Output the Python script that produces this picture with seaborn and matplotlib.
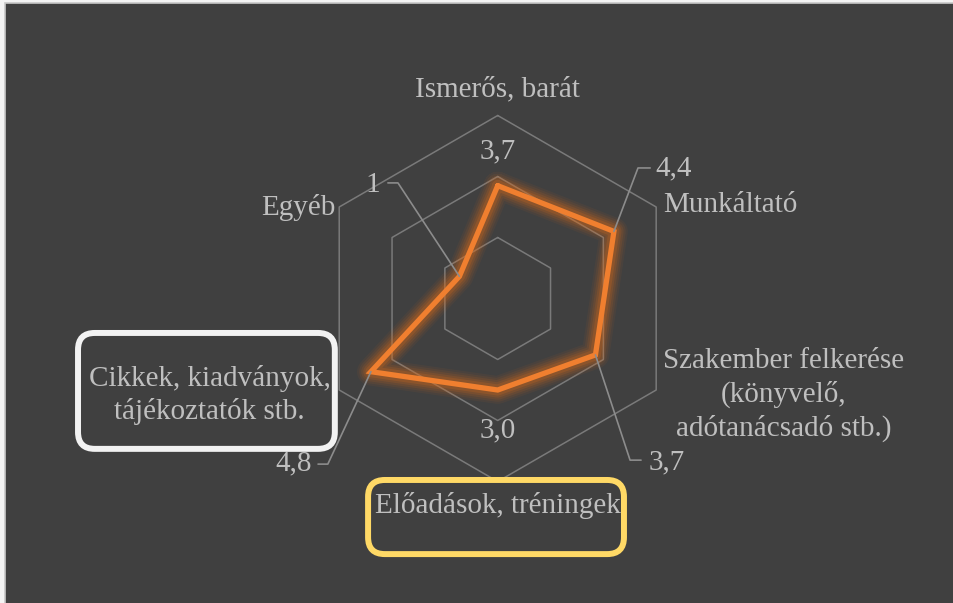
import numpy as np
import pandas as pd
import matplotlib.pyplot as plt
from matplotlib.patches import FancyBboxPatch, Rectangle
import seaborn as sns

# --- Data ---
categories = ['Ismerős, barát',
              'Munkáltató',
              'Szakember felkerése\n(könyvelő,\nadótanácsadó stb.)',
              'Előadások, tréningek',
              'Cikkek, kiadványok,\ntájékoztatók stb.',
              'Egyéb']
values = [3.7, 4.4, 3.7, 3.0, 4.8, 1.45]
value_labels = ['3,7', '4,4', '3,7', '3,0', '4,8', '1']
rings = [2, 4, 6]

# --- Style ---
bg = '#404040'
txt_col = '#bfbfbf'
grid_col = '#7a7a7a'
orange = '#f07f2f'
fs = 21

sns.set_theme(style='white')
plt.rcParams['font.family'] = ['Liberation Serif', 'DejaVu Serif']

# px geometry of reference: centre and px per unit
cx, cy, ppu = 497.7, 298.5, 30.5
W, H = 954, 603

fig = plt.figure(figsize=(W / 100, H / 100), dpi=100, facecolor='#f4f4f4')
fig.patches.append(Rectangle((5 / W, -0.05), 1.05, 1.05 - 3 / H, transform=fig.transFigure,
                             facecolor=bg, edgecolor='#c8c8c8', lw=1.2, zorder=-1))
ax = fig.add_axes([0, 0, 1, 1])
ax.set_facecolor('none')
ax.set_xlim(-cx / ppu, (W - cx) / ppu)
ax.set_ylim(-(H - cy) / ppu, cy / ppu)
ax.set_aspect('equal')
ax.axis('off')

n = len(categories)
theta = np.arange(n) * 2 * np.pi / n   # clockwise from top


def to_xy(r, th):
    return np.asarray(r) * np.sin(th), np.asarray(r) * np.cos(th)


# hexagon grid
th_closed = np.append(theta, theta[0])
for r in rings:
    gx, gy = to_xy(np.full(n + 1, r), th_closed)
    ax.plot(gx, gy, color=grid_col, lw=1.1, zorder=1)

# data polygon with soft glow
px, py = to_xy(values, theta)
df = pd.DataFrame({'x': np.append(px, px[0]), 'y': np.append(py, py[0])})
for w, a in [(20, 0.07), (17, 0.09), (14, 0.12), (11, 0.16), (8, 0.22)]:
    ax.plot(df['x'], df['y'], color='#d86a1a', lw=w, alpha=a, solid_joinstyle='round', zorder=2)
sns.lineplot(data=df, x='x', y='y', sort=False, estimator=None, color=orange, lw=3.8,
             ax=ax, zorder=3)
ax.lines[-1].set_solid_joinstyle('miter')

# category labels
vx, vy = to_xy(np.full(n, 6), theta)
cat_style = [((0, 0.85), 'center'), ((0.22, 0.07), 'left'), ((0.22, -0.16), 'left'),
             ((0, -0.8), 'center'), ((-0.28, -0.16), 'right'), ((-0.13, 0.0), 'right')]
for i, lab in enumerate(categories):
    (dx, dy), ha = cat_style[i]
    ax.text(vx[i] + dx, vy[i] + dy, lab, ha=ha, va='center', multialignment='center',
            linespacing=1.3, fontsize=fs, color=txt_col, zorder=5)

# value labels (some with leader lines)
lab_style = [
    dict(pos=(0, 4.84), ha='center', leader=None),
    dict(pos=(5.18, 4.28), ha='left', leader=[(4.6, 4.28), (5.0, 4.28)]),
    dict(pos=(4.95, -5.36), ha='left', leader=[(4.34, -5.30), (4.7, -5.30)]),
    dict(pos=(0, -4.31), ha='center', leader=None),
    dict(pos=(-6.1, -5.39), ha='right', leader=[(-5.57, -5.43), (-5.89, -5.43)]),
    dict(pos=(-3.85, 3.72), ha='right', leader=[(-3.27, 3.79), (-3.6, 3.79)]),
]
for i, s in enumerate(lab_style):
    if s['leader'] is not None:
        lx = [px[i]] + [p[0] for p in s['leader']]
        ly = [py[i]] + [p[1] for p in s['leader']]
        ax.plot(lx, ly, color='#8c8c8c', lw=1.2, zorder=4)
    ax.text(s['pos'][0], s['pos'][1], value_labels[i], ha=s['ha'], va='center',
            fontsize=fs, color=txt_col, zorder=5)

# highlight boxes
ax.add_patch(FancyBboxPatch((-13.76, -4.93), 8.42, 3.8,
                            boxstyle='round,pad=0,rounding_size=0.55',
                            facecolor='none', edgecolor='#f2f2f2', lw=4.3, zorder=6))
ax.add_patch(FancyBboxPatch((-4.25, -8.38), 8.39, 2.43,
                            boxstyle='round,pad=0,rounding_size=0.55',
                            facecolor='none', edgecolor='#ffd966', lw=4.3, zorder=6))

fig.savefig('out.png', dpi=100, facecolor=fig.get_facecolor())
